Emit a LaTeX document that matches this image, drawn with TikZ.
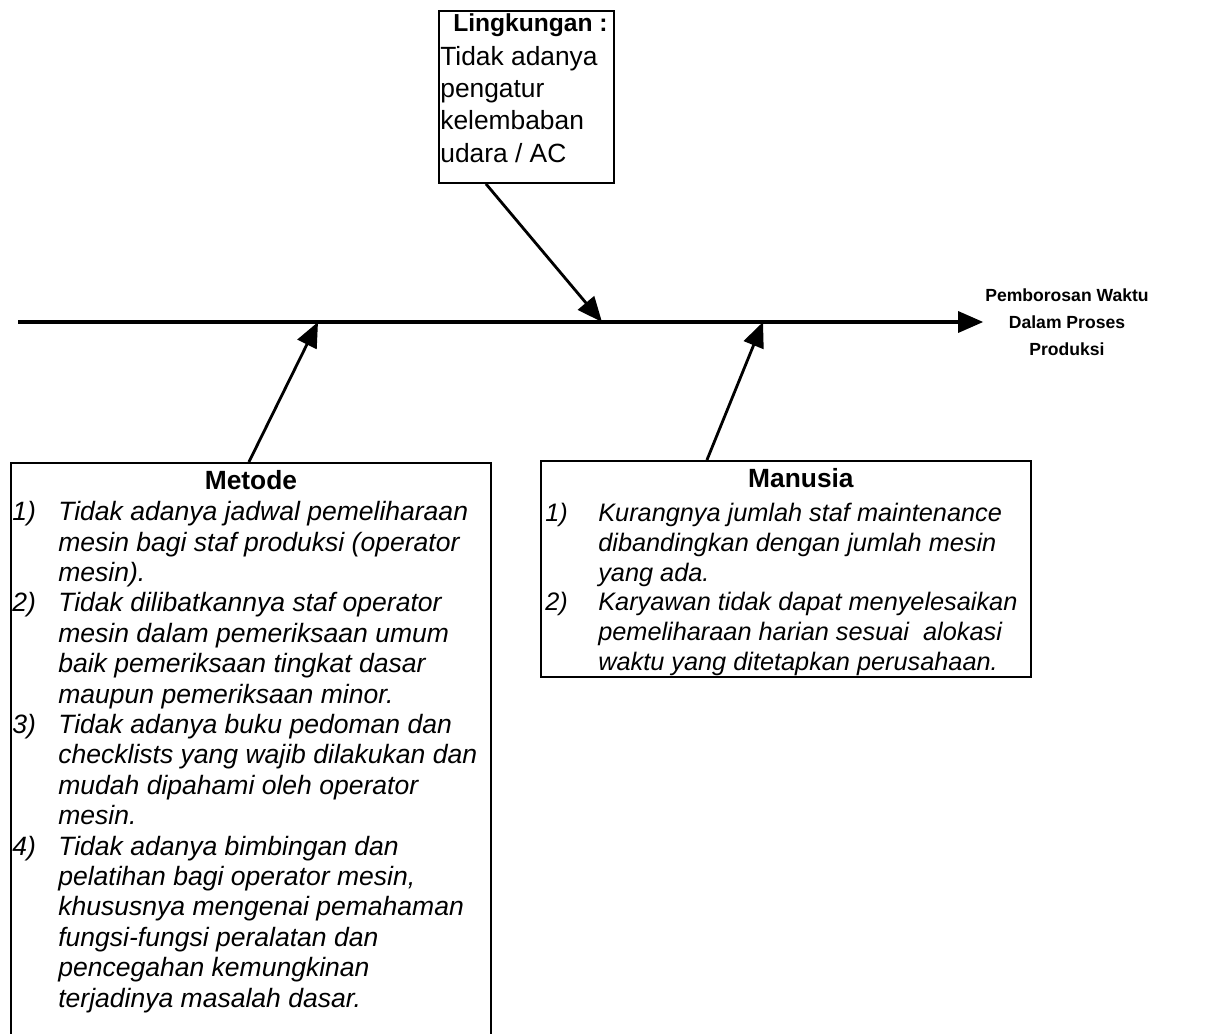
\documentclass[tikz,border=0pt]{standalone}
\usepackage{fontspec}
\setmainfont{Liberation Sans}
\usetikzlibrary{arrows.meta, positioning}

\begin{document}
\begin{tikzpicture}[
      x=0.02cm, y=-0.02cm,
      box/.style={draw, line width=1.1pt, anchor=north west, inner sep=0pt},
      arrow/.style={-{Triangle[length=0.5cm, width=0.42cm]}, line width=1.6pt},
      title/.style={inner sep=0pt, font=\bfseries\fontsize{15}{18}\selectfont},
      items/.style={anchor=north west, inner sep=0pt, align=left, font=\itshape\fontsize{15.1}{17.3}\selectfont}
    ]
    \useasboundingbox (0,0) rectangle (1221,1034);

    % Spine
    \coordinate (tail) at (18,322);
    \node[inner sep=1pt, align=center, font=\bfseries\fontsize{10}{15.4}\selectfont] (effect) at (1067,322) {Pemborosan Waktu\\Dalam Proses\\Produksi};
    \draw[arrow, line width=1.8pt] (tail) -- (effect.west);

    \coordinate (metTip) at (318,322);
    \coordinate (linTip) at (602,322);
    \coordinate (manTip) at (763,322);

    % Lingkungan
    \node[box, minimum width=3.5cm, minimum height=3.44cm] (ling) at (438,10) {};
    \node[title, font=\bfseries\fontsize{14}{17}\selectfont, below=0.06cm of ling.north, xshift=0.08cm] (lingTitle) {Lingkungan :};
    \node[items, font=\fontsize{15}{18.4}\selectfont] (lingText) at ([xshift=0.04cm, yshift=-0.18cm]ling.north west |- lingTitle.south) {Tidak adanya\\pengatur\\kelembaban\\udara / AC};

    % Metode
    \node[box, minimum width=9.6cm, minimum height=12cm] (metode) at (10,462) {};
    \node[title, below=0.16cm of metode.north] (metTitle) {Metode};
    \node[items] (metText) at ([xshift=0.04cm, yshift=-0.18cm]metode.north west |- metTitle.south) {%
      \begin{tabular}{@{}p{0.92cm}@{}l@{}}
        1) & Tidak adanya jadwal pemeliharaan\\
           & mesin bagi staf produksi (operator\\
           & mesin).\\
        2) & Tidak dilibatkannya staf operator\\
           & mesin dalam pemeriksaan umum\\
           & baik pemeriksaan tingkat dasar\\
           & maupun pemeriksaan minor.\\
        3) & Tidak adanya buku pedoman dan\\
           & checklists yang wajib dilakukan dan\\
           & mudah dipahami oleh operator\\
           & mesin.\\
        4) & Tidak adanya bimbingan dan\\
           & pelatihan bagi operator mesin,\\
           & khususnya mengenai pemahaman\\
           & fungsi-fungsi peralatan dan\\
           & pencegahan kemungkinan\\
           & terjadinya masalah dasar.
      \end{tabular}};

    % Manusia
    \node[box, minimum width=9.8cm, minimum height=4.32cm] (manusia) at (540,460) {};
    \node[title, below=0.16cm of manusia.north, xshift=0.3cm] (manTitle) {Manusia};
    \node[items, font=\itshape\fontsize{14.4}{17}\selectfont] (manText) at ([xshift=0.1cm, yshift=-0.24cm]manusia.north west |- manTitle.south) {%
      \begin{tabular}{@{}p{1.06cm}@{}l@{}}
        1) & Kurangnya jumlah staf maintenance\\
           & dibandingkan dengan jumlah mesin\\
           & yang ada.\\
        2) & Karyawan tidak dapat menyelesaikan\\
           & pemeliharaan harian sesuai\ \ alokasi\\
           & waktu yang ditetapkan perusahaan.
      \end{tabular}};

    % Causes to spine
    \draw[arrow] ([xshift=-0.81cm]ling.south) -- (linTip);
    \draw[arrow] ([xshift=-0.04cm]metode.north) -- (metTip);
    \draw[arrow] ([xshift=-1.58cm]manusia.north) -- (manTip);

  \end{tikzpicture}
\end{document}
